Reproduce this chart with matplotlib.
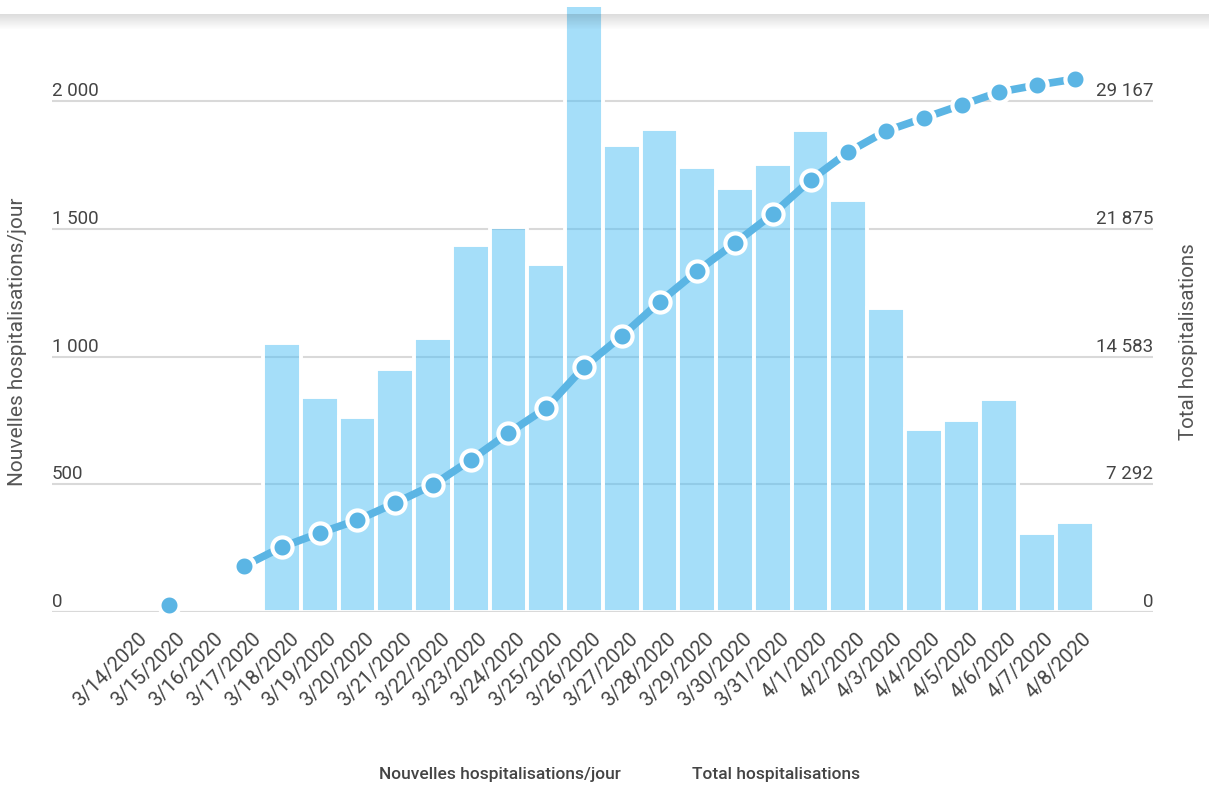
import numpy as np
import matplotlib
matplotlib.use('Agg')
import matplotlib.pyplot as plt
import matplotlib.transforms as mtransforms

plt.rcParams['font.family'] = ['Roboto', 'DejaVu Sans']

dates = ['3/14/2020', '3/15/2020', '3/16/2020', '3/17/2020', '3/18/2020', '3/19/2020',
         '3/20/2020', '3/21/2020', '3/22/2020', '3/23/2020', '3/24/2020', '3/25/2020',
         '3/26/2020', '3/27/2020', '3/28/2020', '3/29/2020', '3/30/2020', '3/31/2020',
         '4/1/2020', '4/2/2020', '4/3/2020', '4/4/2020', '4/5/2020', '4/6/2020',
         '4/7/2020', '4/8/2020']
new_hosp = [0, 0, 0, 0, 1052, 840, 765, 953, 1074, 1438, 1505, 1364, 2450, 1826,
            1892, 1740, 1658, 1755, 1885, 1611, 1188, 718, 750, 832, 311, 354]
total_hosp = [np.nan, 400, np.nan, 2626, 3710, 4509, 5251, 6222, 7249, 8676, 10217,
              11644, 13984, 15754, 17694, 19464, 21062, 22717, 24658, 26256, 27455,
              28197, 28939, 29681, 30080, 30423]
left_ticks = [0, 500, 1000, 1500, 2000]
right_ticks = [0, 7292, 14583, 21875, 29167]

bar_c = (0.30, 0.75, 0.96, 0.5)
line_c = '#5bb5e4'
txt_c = '#444444'

W, H = 1209, 787
fig = plt.figure(figsize=(W / 100, H / 100), dpi=100)
ax = fig.add_axes([52 / W, 1 - 612 / H, (1153 - 52) / W, (612 - 7) / H])

x = np.arange(len(dates))
ax.bar(x, new_hosp, width=1.0, color=bar_c, edgecolor='white', linewidth=2.8, zorder=2)
ax.set_xlim(-2.09, 27.07)
ymax = 2368
ax.set_ylim(0, ymax)
ax.set_yticks(left_ticks)
ax.set_axisbelow(True)
ax.yaxis.grid(True, color='#d9d9d9', linewidth=1.5)
ax.axhline(0, color='#d9d9d9', linewidth=1.5, zorder=3)
ax.tick_params(axis='y', length=0, labelleft=False)
for s in ax.spines.values():
    s.set_visible(False)

ax.set_xticks(x)
ax.set_xticklabels(dates, rotation=45, ha='right', va='top', rotation_mode='anchor',
                   fontsize=14.5, color=txt_c)
ax.tick_params(axis='x', length=0, pad=12)
shift = mtransforms.ScaledTranslation(7 / 100, 0, fig.dpi_scale_trans)
for lab in ax.get_xticklabels():
    lab.set_transform(lab.get_transform() + shift)

up = mtransforms.ScaledTranslation(0, 5 / 100, fig.dpi_scale_trans)
tr_l = mtransforms.blended_transform_factory(ax.transAxes, ax.transData) + up
for v in left_ticks:
    ax.text(0, v, f'{v:,}'.replace(',', ' '), transform=tr_l, ha='left', va='baseline',
            fontsize=13.5, color=txt_c)

ax2 = ax.twinx()
ax2.set_ylim(0, ymax * right_ticks[-1] / left_ticks[-1])
ax2.tick_params(axis='y', length=0, labelright=False)
for s in ax2.spines.values():
    s.set_visible(False)
ax2.plot(x, total_hosp, color=line_c, linewidth=5.5, solid_capstyle='butt',
         marker='o', markersize=14.5, markerfacecolor=line_c, markeredgecolor='white',
         markeredgewidth=3, clip_on=False)

tr_r = mtransforms.blended_transform_factory(ax2.transAxes, ax2.transData) + up
for v in right_ticks:
    ax2.text(1, v, f'{v:,}'.replace(',', ' '), transform=tr_r, ha='right', va='baseline',
             fontsize=13.5, color=txt_c)

fig.text(18 / W, 1 - 342 / H, 'Nouvelles hospitalisations/jour', rotation=90,
         ha='center', va='center', fontsize=15, color='#555555')
fig.text(1188 / W, 1 - 342 / H, 'Total hospitalisations', rotation=90,
         ha='center', va='center', fontsize=14.8, color='#555555')

fig.text(500 / W, 1 - 774 / H, 'Nouvelles hospitalisations/jour', ha='center', va='center',
         fontsize=12.5, fontweight='medium', color=txt_c)
fig.text(776 / W, 1 - 774 / H, 'Total hospitalisations', ha='center', va='center',
         fontsize=12.5, fontweight='medium', color=txt_c)

# shadow under the header band
sh = fig.add_axes([0, 1 - 30 / H, 1, 16 / H], zorder=10)
grad = np.zeros((60, 1, 4))
grad[..., 3] = np.linspace(0.14, 0.0, 60)[:, None]
sh.imshow(grad, aspect='auto', interpolation='bilinear')
sh.axis('off')

fig.savefig('out.png', dpi=100)
